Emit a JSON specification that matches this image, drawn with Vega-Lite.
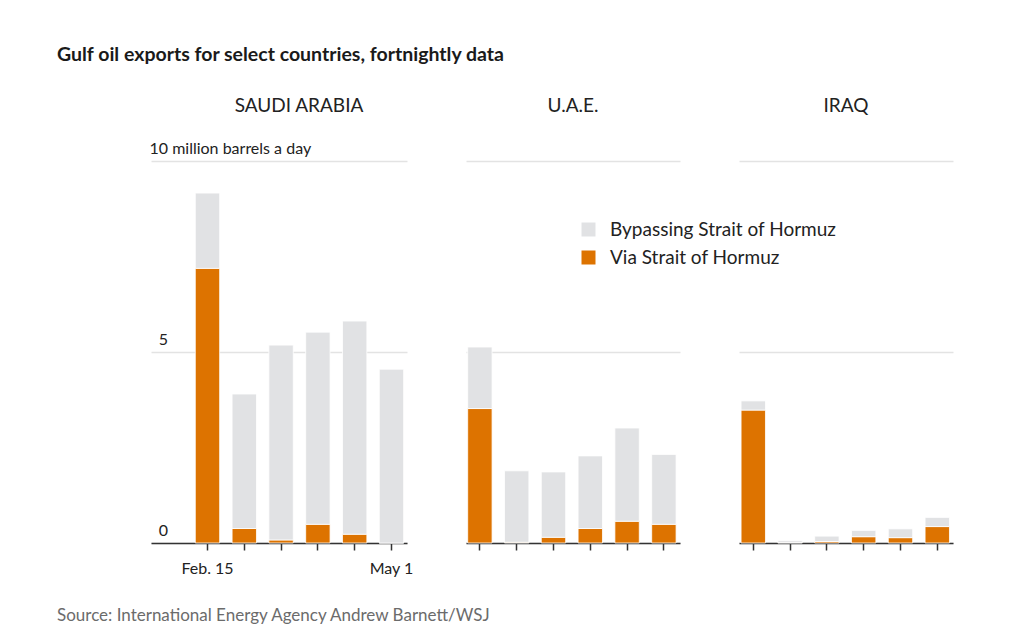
{
  "$schema": "https://vega.github.io/schema/vega-lite/v6.json",
  "padding": {"left": 57, "top": 44, "right": 10, "bottom": 10},
  "background": "white",
  "config": {
    "view": {"stroke": null},
    "font": "Lato",
    "concat": {"spacing": 59}
  },
  "title": {
    "text": "Gulf oil exports for select countries, fortnightly data",
    "anchor": "start",
    "font": "Lato",
    "fontSize": 19.5,
    "fontWeight": "bold",
    "color": "#1a1a1a",
    "baseline": "alphabetic",
    "offset": 17
  },
  "data": {
    "values": [
      {"country": "Saudi Arabia", "period": "Feb. 15", "type": "Via Strait of Hormuz", "value": 7.19},
      {"country": "Saudi Arabia", "period": "Feb. 15", "type": "Bypassing Strait of Hormuz", "value": 1.97},
      {"country": "Saudi Arabia", "period": "Mar. 1", "type": "Via Strait of Hormuz", "value": 0.38},
      {"country": "Saudi Arabia", "period": "Mar. 1", "type": "Bypassing Strait of Hormuz", "value": 3.52},
      {"country": "Saudi Arabia", "period": "Mar. 15", "type": "Via Strait of Hormuz", "value": 0.08},
      {"country": "Saudi Arabia", "period": "Mar. 15", "type": "Bypassing Strait of Hormuz", "value": 5.1},
      {"country": "Saudi Arabia", "period": "Apr. 1", "type": "Via Strait of Hormuz", "value": 0.49},
      {"country": "Saudi Arabia", "period": "Apr. 1", "type": "Bypassing Strait of Hormuz", "value": 5.03},
      {"country": "Saudi Arabia", "period": "Apr. 15", "type": "Via Strait of Hormuz", "value": 0.23},
      {"country": "Saudi Arabia", "period": "Apr. 15", "type": "Bypassing Strait of Hormuz", "value": 5.58},
      {"country": "Saudi Arabia", "period": "May 1", "type": "Via Strait of Hormuz", "value": 0},
      {"country": "Saudi Arabia", "period": "May 1", "type": "Bypassing Strait of Hormuz", "value": 4.55},
      {"country": "U.A.E.", "period": "Feb. 15", "type": "Via Strait of Hormuz", "value": 3.52},
      {"country": "U.A.E.", "period": "Feb. 15", "type": "Bypassing Strait of Hormuz", "value": 1.61},
      {"country": "U.A.E.", "period": "Mar. 1", "type": "Via Strait of Hormuz", "value": 0.02},
      {"country": "U.A.E.", "period": "Mar. 1", "type": "Bypassing Strait of Hormuz", "value": 1.87},
      {"country": "U.A.E.", "period": "Mar. 15", "type": "Via Strait of Hormuz", "value": 0.15},
      {"country": "U.A.E.", "period": "Mar. 15", "type": "Bypassing Strait of Hormuz", "value": 1.71},
      {"country": "U.A.E.", "period": "Apr. 1", "type": "Via Strait of Hormuz", "value": 0.38},
      {"country": "U.A.E.", "period": "Apr. 1", "type": "Bypassing Strait of Hormuz", "value": 1.9},
      {"country": "U.A.E.", "period": "Apr. 15", "type": "Via Strait of Hormuz", "value": 0.57},
      {"country": "U.A.E.", "period": "Apr. 15", "type": "Bypassing Strait of Hormuz", "value": 2.44},
      {"country": "U.A.E.", "period": "May 1", "type": "Via Strait of Hormuz", "value": 0.49},
      {"country": "U.A.E.", "period": "May 1", "type": "Bypassing Strait of Hormuz", "value": 1.83},
      {"country": "Iraq", "period": "Feb. 15", "type": "Via Strait of Hormuz", "value": 3.48},
      {"country": "Iraq", "period": "Feb. 15", "type": "Bypassing Strait of Hormuz", "value": 0.24},
      {"country": "Iraq", "period": "Mar. 1", "type": "Via Strait of Hormuz", "value": 0.01},
      {"country": "Iraq", "period": "Mar. 1", "type": "Bypassing Strait of Hormuz", "value": 0.05},
      {"country": "Iraq", "period": "Mar. 15", "type": "Via Strait of Hormuz", "value": 0.04},
      {"country": "Iraq", "period": "Mar. 15", "type": "Bypassing Strait of Hormuz", "value": 0.14},
      {"country": "Iraq", "period": "Apr. 1", "type": "Via Strait of Hormuz", "value": 0.165},
      {"country": "Iraq", "period": "Apr. 1", "type": "Bypassing Strait of Hormuz", "value": 0.165},
      {"country": "Iraq", "period": "Apr. 15", "type": "Via Strait of Hormuz", "value": 0.14},
      {"country": "Iraq", "period": "Apr. 15", "type": "Bypassing Strait of Hormuz", "value": 0.23},
      {"country": "Iraq", "period": "May 1", "type": "Via Strait of Hormuz", "value": 0.43},
      {"country": "Iraq", "period": "May 1", "type": "Bypassing Strait of Hormuz", "value": 0.24}
    ]
  },
  "vconcat": [
    {
      "title": {
        "text": "Source: International Energy Agency Andrew Barnett/WSJ",
        "orient": "bottom", "anchor": "start", "dx": -92, "offset": 32,
        "font": "Lato", "fontSize": 17, "fontWeight": "normal", "color": "#6b6b6b"
      },
      "bounds": "flush",
      "resolve": {"scale": {"color": "independent"}, "legend": {"color": "independent"}},
      "hconcat": [
        {
          "width": 256,
          "height": 382,
          "title": {"text": "SAUDI ARABIA", "frame": "group", "anchor": "middle", "dx": 20, "font": "Lato", "fontSize": 19, "fontWeight": "normal", "color": "#222222", "baseline": "alphabetic", "offset": 9},
          "transform": [{"filter": "datum.country == 'Saudi Arabia'"}],
          "mark": {"type": "bar", "stroke": "white", "strokeWidth": 0.8},
          "encoding": {
            "x": {
              "field": "period", "type": "ordinal",
              "sort": ["Feb. 15", "Mar. 1", "Mar. 15", "Apr. 1", "Apr. 15", "May 1"],
              "scale": {"paddingInner": 0.337, "paddingOuter": 0.647, "align": 0.93},
              "axis": {
                "title": null,
                "labelExpr": "datum.value == 'Feb. 15' || datum.value == 'May 1' ? datum.label : ''",
                "labelAngle": 0, "labelFont": "Lato", "labelFontSize": 16, "labelColor": "#222222", "labelPadding": 10,
                "domainColor": "#333333", "domainWidth": 1.5, "tickColor": "#333333", "tickWidth": 1.5, "tickSize": 7, "grid": false
              }
            },
            "y": {
              "field": "value", "type": "quantitative", "stack": "zero",
              "scale": {"domain": [0, 10]},
              "axis": {
                "title": null, "values": [0, 5, 10], "domain": false, "ticks": false, "tickSize": 0,
                "grid": true, "gridColor": "#e3e3e3", "gridWidth": 1.5,
                "labelAlign": "left", "labelBaseline": "alphabetic", "labelPadding": 2, "labelOffset": -8,
                "labelFont": "Lato", "labelFontSize": 16, "labelColor": "#222222", "labelLimit": 400,
                "labelExpr": "datum.value == 10 ? '10 million barrels a day' : '\u200b\u2007' + datum.label"
              }
            },
            "color": {
              "field": "type", "type": "nominal",
              "scale": {"domain": ["Bypassing Strait of Hormuz", "Via Strait of Hormuz"], "range": ["#e1e2e4", "#dd7300"]},
              "legend": null
            },
            "order": {"field": "type", "sort": "descending"}
          }
        },
        {
          "width": 214,
          "height": 382,
          "title": {"text": "U.A.E.", "frame": "group", "anchor": "middle", "font": "Lato", "fontSize": 19, "fontWeight": "normal", "color": "#222222", "baseline": "alphabetic", "offset": 30},
          "transform": [{"filter": "datum.country == 'U.A.E.'"}],
          "mark": {"type": "bar", "stroke": "white", "strokeWidth": 0.8},
          "encoding": {
            "x": {
              "field": "period", "type": "ordinal",
              "sort": ["Feb. 15", "Mar. 1", "Mar. 15", "Apr. 1", "Apr. 15", "May 1"],
              "scale": {"paddingInner": 0.337, "paddingOuter": 0.076, "align": 0.3},
              "axis": {
                "title": null, "labels": false,
                "domainColor": "#333333", "domainWidth": 1.5, "tickColor": "#333333", "tickWidth": 1.5, "tickSize": 7, "grid": false
              }
            },
            "y": {
              "field": "value", "type": "quantitative", "stack": "zero",
              "scale": {"domain": [0, 10]},
              "axis": {
                "title": null, "values": [0, 5, 10], "domain": false, "ticks": false, "tickSize": 0, "labels": false,
                "grid": true, "gridColor": "#e3e3e3", "gridWidth": 1.5
              }
            },
            "color": {
              "field": "type", "type": "nominal",
              "scale": {"domain": ["Bypassing Strait of Hormuz", "Via Strait of Hormuz"], "range": ["#e1e2e4", "#dd7300"]},
              "legend": {
                "title": null, "orient": "none", "legendX": 113, "legendY": 59,
                "symbolType": "square", "symbolSize": 196, "symbolStrokeWidth": 0, "symbolOpacity": 1,
                "labelFont": "Lato", "labelFontSize": 19, "labelColor": "#222222", "labelOffset": 12, "labelLimit": 400,
                "rowPadding": 8
              }
            },
            "order": {"field": "type", "sort": "descending"}
          }
        },
        {
          "width": 214,
          "height": 382,
          "title": {"text": "IRAQ", "frame": "group", "anchor": "middle", "font": "Lato", "fontSize": 19, "fontWeight": "normal", "color": "#222222", "baseline": "alphabetic", "offset": 30},
          "transform": [{"filter": "datum.country == 'Iraq'"}],
          "mark": {"type": "bar", "stroke": "white", "strokeWidth": 0.8},
          "encoding": {
            "x": {
              "field": "period", "type": "ordinal",
              "sort": ["Feb. 15", "Mar. 1", "Mar. 15", "Apr. 1", "Apr. 15", "May 1"],
              "scale": {"paddingInner": 0.337, "paddingOuter": 0.076, "align": 0.37},
              "axis": {
                "title": null, "labels": false,
                "domainColor": "#333333", "domainWidth": 1.5, "tickColor": "#333333", "tickWidth": 1.5, "tickSize": 7, "grid": false
              }
            },
            "y": {
              "field": "value", "type": "quantitative", "stack": "zero",
              "scale": {"domain": [0, 10]},
              "axis": {
                "title": null, "values": [0, 5, 10], "domain": false, "ticks": false, "tickSize": 0, "labels": false,
                "grid": true, "gridColor": "#e3e3e3", "gridWidth": 1.5
              }
            },
            "color": {
              "field": "type", "type": "nominal",
              "scale": {"domain": ["Bypassing Strait of Hormuz", "Via Strait of Hormuz"], "range": ["#e1e2e4", "#dd7300"]},
              "legend": null
            },
            "order": {"field": "type", "sort": "descending"}
          }
        }
      ]
    }
  ]
}
